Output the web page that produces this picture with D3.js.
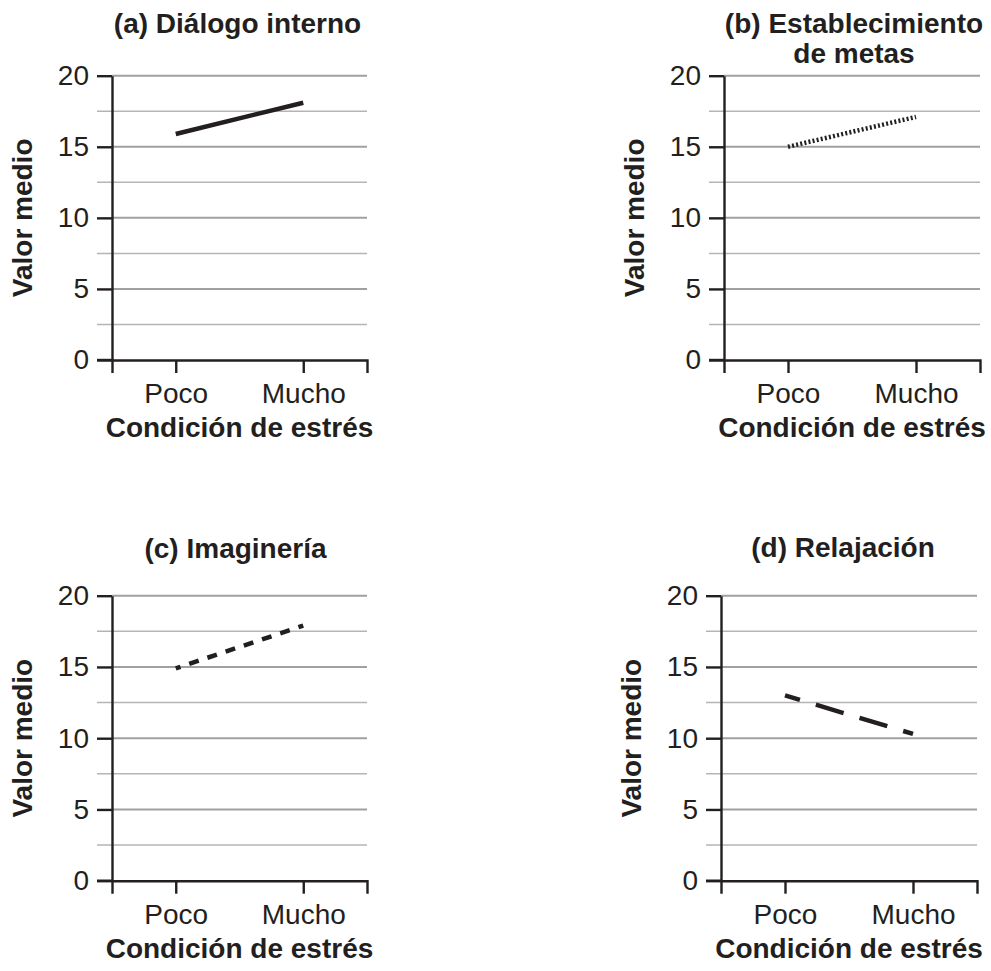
<!DOCTYPE html>
<html>
<head>
<meta charset="utf-8">
<script src="https://cdn.jsdelivr.net/npm/d3@7"></script>
<style>
  body { margin: 0; background: #fff; }
  text { font-family: "Liberation Sans", Arial, sans-serif; fill: #231f20; }
</style>
</head>
<body>
<div id="chart"></div>
<script>
// Data
const categories = ["Poco", "Mucho"];
const titles = [
    ["(a) Diálogo interno"],
    ["(b) Establecimiento", "de metas"],
    ["(c) Imaginería"],
    ["(d) Relajación"]
];
const dialogoInterno = [15.9, 18.1];
const establecimientoMetas = [15.0, 17.1];
const imagineria = [14.9, 17.9];
const relajacion = [13.0, 10.3];
const yTicks = [0, 5, 10, 15, 20];
const yMinorTicks = [2.5, 7.5, 12.5, 17.5];
const yLabel = "Valor medio";
const xLabel = "Condición de estrés";

const series = [dialogoInterno, establecimientoMetas, imagineria, relajacion];

// Layout of each panel and line style
const panels = [
    { left: 112, right: 367, top: 75.7, bottom: 360, titleY: 33, titleDx: -2, dash: null, dashOffset: 0 },
    { left: 724, right: 980, top: 75.7, bottom: 360, titleY: 33, titleDx: 2, dash: "2,2.2", dashOffset: 0 },
    { left: 112, right: 367, top: 595.7, bottom: 880.7, titleY: 558, titleDx: -4, dash: "10,9.2", dashOffset: 5 },
    { left: 721, right: 977, top: 595.7, bottom: 880.7, titleY: 557, titleDx: -6, dash: "29,16.6", dashOffset: 13.4 }
];

const ink = "#231f20";

const svg = d3.select("#chart")
    .append("svg")
    .attr("width", 991)
    .attr("height", 971);

panels.forEach((p, i) => {
    const values = series[i];
    const data = categories.map((c, j) => ({ cat: c, value: values[j] }));

    const x = d3.scalePoint()
        .domain(categories)
        .range([p.left, p.right])
        .padding(0.5);

    const y = d3.scaleLinear()
        .domain([0, 20])
        .range([p.bottom, p.top]);

    const g = svg.append("g");

    // Gridlines
    g.selectAll(".minor")
        .data(yMinorTicks)
        .enter()
        .append("line")
        .attr("x1", p.left - 15)
        .attr("x2", p.right)
        .attr("y1", d => y(d))
        .attr("y2", d => y(d))
        .attr("stroke", "#b5b5b5")
        .attr("stroke-width", 1.5);

    g.selectAll(".major")
        .data(yTicks.slice(1))
        .enter()
        .append("line")
        .attr("x1", p.left)
        .attr("x2", p.right)
        .attr("y1", d => y(d))
        .attr("y2", d => y(d))
        .attr("stroke", "#a0a0a0")
        .attr("stroke-width", 2);

    // Axes
    const yAxis = g.append("g")
        .attr("transform", `translate(${p.left},0)`)
        .call(d3.axisLeft(y).tickValues(yTicks).tickSizeInner(15).tickSizeOuter(0).tickPadding(8));

    const xAxis = g.append("g")
        .attr("transform", `translate(0,${p.bottom})`)
        .call(d3.axisBottom(x).tickSizeInner(13).tickSizeOuter(13).tickPadding(10.5));

    // x axis line extends left to the y tick end
    g.append("line")
        .attr("x1", p.left - 15)
        .attr("x2", p.left)
        .attr("y1", p.bottom)
        .attr("y2", p.bottom)
        .attr("stroke", ink)
        .attr("stroke-width", 2.4);

    [yAxis, xAxis].forEach(a => {
        a.selectAll("path, line").attr("stroke", ink).attr("stroke-width", 2.4);
        a.selectAll("text")
            .style("font-family", '"Liberation Sans", Arial, sans-serif')
            .style("font-size", "28px")
            .attr("fill", ink);
    });

    // Line
    const line = d3.line()
        .x(d => x(d.cat))
        .y(d => y(d.value));

    g.append("path")
        .datum(data)
        .attr("d", line)
        .attr("fill", "none")
        .attr("stroke", ink)
        .attr("stroke-width", 4.5)
        .attr("stroke-dasharray", p.dash)
        .attr("stroke-dashoffset", p.dashOffset);

    // Title
    const cx = (p.left + p.right) / 2;
    const title = g.append("text")
        .attr("x", cx + p.titleDx)
        .attr("y", p.titleY)
        .attr("text-anchor", "middle")
        .style("font-size", "28px")
        .style("font-weight", "bold");
    titles[i].forEach((t, k) => {
        title.append("tspan")
            .attr("x", cx + p.titleDx)
            .attr("dy", k === 0 ? 0 : 30)
            .text(t);
    });

    // Axis labels
    g.append("text")
        .attr("transform", `translate(${p.left - 80},${(p.top + p.bottom) / 2}) rotate(-90)`)
        .attr("text-anchor", "middle")
        .style("font-size", "28px")
        .style("font-weight", "bold")
        .text(yLabel);

    g.append("text")
        .attr("x", cx)
        .attr("y", p.bottom + 77)
        .attr("text-anchor", "middle")
        .style("font-size", "28px")
        .style("font-weight", "bold")
        .text(xLabel);
});
</script>
</body>
</html>
